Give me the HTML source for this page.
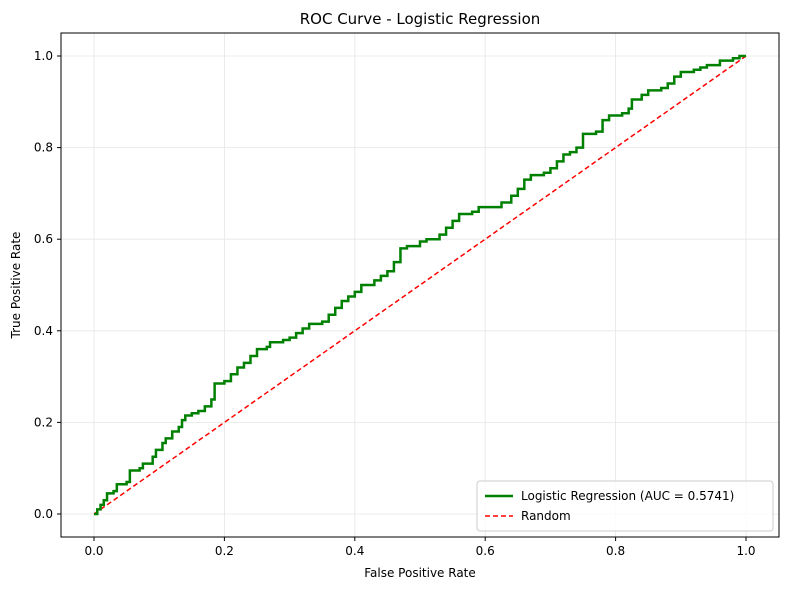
<!DOCTYPE html>
<html><head><meta charset="utf-8"><style>
body{margin:0;background:#fff;font-family:"Liberation Sans","DejaVu Sans",sans-serif;}
svg text{font-family:"DejaVu Sans","Liberation Sans",sans-serif;}
</style></head><body>
<svg id="chart" width="790" height="590" xmlns="http://www.w3.org/2000/svg">
<rect width="790" height="590" fill="#fff"/>
<text x="420" y="24" font-size="15" text-anchor="middle" fill="#000">ROC Curve - Logistic Regression</text>
<g id="grid"></g>
<g id="ticks"></g>
<g id="series"></g>
<rect x="61" y="33" width="718" height="504" fill="none" stroke="#000" stroke-width="1"/>
<text x="420" y="577" font-size="12" text-anchor="middle">False Positive Rate</text>
<text x="20" y="285" font-size="12" text-anchor="middle" transform="rotate(-90 20 285)">True Positive Rate</text>
<g>
<rect x="477" y="481" width="296" height="50" rx="3" fill="#fff" fill-opacity="0.8" stroke="#ccc"/>
<line x1="485" y1="496" x2="513" y2="496" stroke="green" stroke-width="2.5"/>
<text x="521" y="500" font-size="12">Logistic Regression (AUC = 0.5741)</text>
<line x1="485" y1="516" x2="513" y2="516" stroke="red" stroke-width="1.5" stroke-dasharray="5,3"/>
<text x="521" y="520" font-size="12">Random</text>
</g>
</svg>
<script>
const fpr=[0,0.005,0.01,0.015,0.02,0.03,0.035,0.05,0.055,0.07,0.075,0.09,0.095,0.105,0.11,0.12,0.13,0.135,0.14,0.15,0.16,0.17,0.18,0.185,0.2,0.21,0.22,0.23,0.24,0.25,0.265,0.27,0.29,0.3,0.31,0.32,0.33,0.35,0.36,0.37,0.38,0.39,0.4,0.41,0.43,0.44,0.45,0.46,0.47,0.48,0.5,0.51,0.53,0.54,0.55,0.56,0.58,0.59,0.62,0.625,0.64,0.65,0.66,0.67,0.69,0.7,0.71,0.72,0.73,0.74,0.75,0.77,0.78,0.79,0.81,0.82,0.825,0.84,0.85,0.87,0.88,0.89,0.9,0.92,0.93,0.94,0.96,0.98,0.99,1];
const tpr=[0,0.01,0.02,0.03,0.045,0.05,0.065,0.07,0.095,0.1,0.11,0.125,0.14,0.155,0.165,0.18,0.19,0.205,0.215,0.22,0.225,0.235,0.25,0.285,0.29,0.305,0.32,0.33,0.345,0.36,0.365,0.375,0.38,0.385,0.395,0.405,0.415,0.42,0.435,0.45,0.465,0.475,0.485,0.5,0.51,0.52,0.53,0.55,0.58,0.585,0.595,0.6,0.61,0.625,0.64,0.655,0.66,0.67,0.67,0.68,0.695,0.71,0.73,0.74,0.745,0.755,0.77,0.785,0.79,0.8,0.83,0.835,0.86,0.87,0.875,0.885,0.905,0.915,0.925,0.93,0.94,0.955,0.965,0.97,0.975,0.98,0.99,0.995,1,1];
const xTicks=[0,0.2,0.4,0.6,0.8,1.0];
const yTicks=[0,0.2,0.4,0.6,0.8,1.0];
const NS="http://www.w3.org/2000/svg";
const sx=v=>94+v*652, sy=v=>514-v*458;
function mk(t,a,p){const e=document.createElementNS(NS,t);for(const k in a)e.setAttribute(k,a[k]);p.appendChild(e);return e;}
const grid=document.getElementById('grid'),ticks=document.getElementById('ticks'),ser=document.getElementById('series');
xTicks.forEach(v=>{const x=sx(v);
const g=mk('line',{x1:x,x2:x,y1:33,y2:537,stroke:'#e6e6e6','stroke-width':0.8},grid);

mk('line',{x1:x,x2:x,y1:537,y2:541,stroke:'#000'},ticks);
const t=mk('text',{x:x,y:555,'font-size':12,'text-anchor':'middle'},ticks);t.textContent=v.toFixed(1);
});
yTicks.forEach(v=>{const y=sy(v);
const g=mk('line',{x1:61,x2:779,y1:y,y2:y,stroke:'#e6e6e6','stroke-width':0.8},grid);

mk('line',{x1:57,x2:61,y1:y,y2:y,stroke:'#000'},ticks);
const t=mk('text',{x:53,y:y+4,'font-size':12,'text-anchor':'end'},ticks);t.textContent=v.toFixed(1);
});
const r=mk('line',{x1:sx(0),y1:sy(0),x2:sx(1),y2:sy(1),stroke:'red','stroke-width':1.5,'stroke-dasharray':'5,3'},ser);

let d='M'+sx(fpr[0])+','+sy(tpr[0]);
for(let i=1;i<fpr.length;i++){d+=' L'+sx(fpr[i])+','+sy(tpr[i-1])+' L'+sx(fpr[i])+','+sy(tpr[i]);}
const p=mk('path',{d:d,fill:'none',stroke:'green','stroke-width':2.5},ser);

</script>
</body></html>
